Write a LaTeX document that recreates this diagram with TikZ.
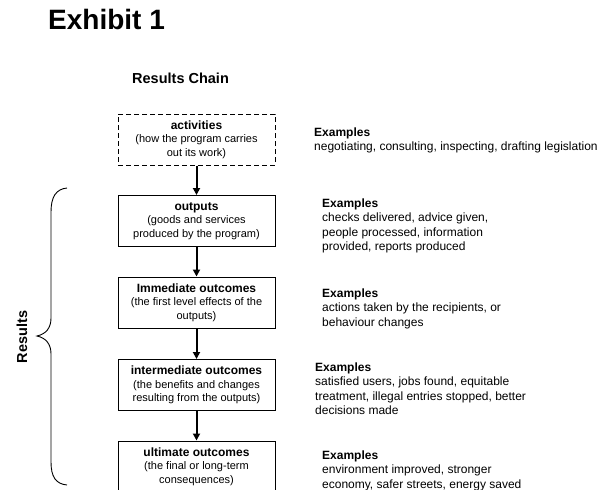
\documentclass[tikz,border=0pt]{standalone}
\usepackage{fontspec}
\setmainfont{Liberation Sans}
\usetikzlibrary{arrows.meta}

\begin{document}
\begin{tikzpicture}[x=1pt, y=-1pt, >=Stealth,
    box/.style={draw, line width=1pt, minimum width=157pt, minimum height=51pt,
                inner sep=0pt, align=center, font=\fontsize{11}{13.5}\selectfont},
    dashbox/.style={box, dash pattern=on 5pt off 3pt},
    flow/.style={-{Triangle[length=7pt, width=7pt]}, line width=2pt},
    eg/.style={anchor=north west, inner sep=0pt, align=left,
               font=\fontsize{12}{14.5}\selectfont}]

  % === Frame ===
  \useasboundingbox (0,0) rectangle (606,490);
  \clip (0,0) rectangle (606,490);

  % === Titles ===
  \node[anchor=base west, inner sep=0pt, font=\fontsize{28}{30}\selectfont\bfseries]
    (title) at (48,29) {Exhibit 1};
  \node[anchor=base west, inner sep=0pt, font=\fontsize{14.5}{16}\selectfont\bfseries]
    (chain) at (132,83) {Results Chain};

  % === Results chain boxes ===
  \node[dashbox] (act) at (196.5,139.5)
    {\textbf{\fontsize{12}{13.5}\selectfont activities}\\(how the program carries\\out its work)};
  \node[box] (out) at (196.5,221)
    {\textbf{\fontsize{12}{13.5}\selectfont outputs}\\(goods and services\\produced by the program)};
  \node[box] (imm) at (196.5,302.5)
    {\textbf{\fontsize{12}{13.5}\selectfont Immediate outcomes}\\(the first level effects of the\\outputs)};
  \node[box] (inter) at (196.5,385)
    {\textbf{\fontsize{12}{13.5}\selectfont intermediate outcomes}\\(the benefits and changes\\resulting from the outputs)};
  \node[box] (ult) at (196.5,466.5)
    {\textbf{\fontsize{12}{13.5}\selectfont ultimate outcomes}\\(the final or long-term\\consequences)};

  % Arrows down the chain
  \draw[flow] (act) -- (out);
  \draw[flow] (out) -- (imm);
  \draw[flow] (imm) -- (inter);
  \draw[flow] (inter) -- (ult);

  % === Examples ===
  \node[eg] (egact) at (314,127.5)
    {\textbf{Examples}\\negotiating, consulting, inspecting, drafting legislation};
  \node[eg] (egout) at (322,198.5)
    {\textbf{Examples}\\checks delivered, advice given,\\people processed, information\\provided, reports produced};
  \node[eg] (egimm) at (322,288.5)
    {\textbf{Examples}\\actions taken by the recipients, or\\behaviour changes};
  \node[eg] (eginter) at (315,362.5)
    {\textbf{Examples}\\satisfied users, jobs found, equitable\\treatment, illegal entries stopped, better\\decisions made};
  \node[eg] (egult) at (322,450.5)
    {\textbf{Examples}\\environment improved, stronger\\economy, safer streets, energy saved};

  % === Results brace ===
  \draw[line width=0.9pt]
    (67,188) .. controls (56,189) and (51,197) .. (51,212) -- (51,318)
    .. controls (51,328) and (46,334) .. (37,336)
    .. controls (46,338) and (51,344) .. (51,354) -- (51,462)
    .. controls (51,477) and (56,484) .. (67,485);
  \node[rotate=90, inner sep=0pt, font=\fontsize{14.5}{16}\selectfont\bfseries]
    (res) at (22,337) {Results};

\end{tikzpicture}
\end{document}
